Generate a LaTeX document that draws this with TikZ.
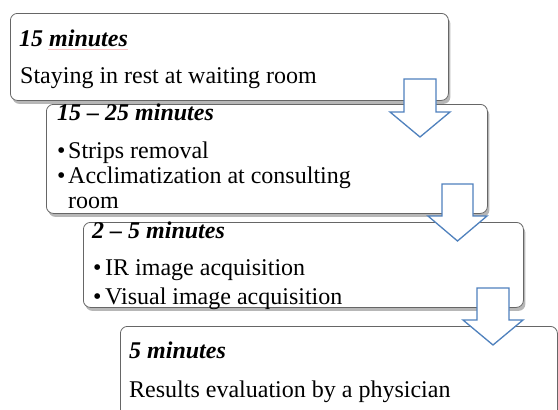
\documentclass[tikz,border=0pt]{standalone}
\usepackage{fontspec}
\setmainfont{Liberation Serif}
\usetikzlibrary{shadows}
\definecolor{arrowblue}{RGB}{79,129,189}
\definecolor{spellpink}{RGB}{250,195,195}
\begin{document}
\begin{tikzpicture}[x=1pt,y=-1pt,
  stagebox/.style={draw=black!60, line width=0.8pt, rounded corners=7pt, fill=white,
    anchor=north west, inner sep=0pt,
    drop shadow={shadow xshift=2pt, shadow yshift=-3.5pt, opacity=0.4, fill=black!70}},
  txt/.style={anchor=base west, inner sep=0pt, font=\fontsize{24}{26}\selectfont},
  ttl/.style={anchor=base west, inner sep=0pt, font=\fontsize{24}{26}\selectfont\bfseries\itshape},
  flowarrow/.style={draw=arrowblue, line width=1.3pt, fill=white, line join=miter}]
\useasboundingbox (0,0) rectangle (558,410);
\clip (0,0) rectangle (558,410);
% box 1
\node[stagebox, minimum width=438pt, minimum height=87pt] (b1) at (10,13) {};
\node[ttl] (t1) at (19,46) {15 minutes};
\draw[spellpink, line width=0.8pt] (48,49) -- (128,49);
\node[txt] (l1) at (20,83) {Staying in rest at waiting room};
% box 2
\node[stagebox, minimum width=441pt, minimum height=109pt] (b2) at (46,104) {};
\node[ttl] (t2) at (57,120) {15 – 25 minutes};
\node[txt] (p21) at (57,158) {•};
\node[txt] (l21) at (68,158) {Strips removal};
\node[txt] (p22) at (57,183) {•};
\node[txt] (l22) at (68,183) {Acclimatization at consulting};
\node[txt] (l23) at (68,208) {room};
% box 3
\node[stagebox, minimum width=440pt, minimum height=85pt] (b3) at (83,222) {};
\node[ttl] (t3) at (92,238) {2 – 5 minutes};
\node[txt] (p31) at (93,275) {•};
\node[txt] (l31) at (105,275) {IR image acquisition};
\node[txt] (p32) at (93,304) {•};
\node[txt] (l32) at (105,304) {Visual image acquisition};
% box 4
\node[stagebox, minimum width=437pt, minimum height=110pt] (b4) at (120,326) {};
\node[ttl] (t4) at (129,358) {5 minutes};
\node[txt] (l4) at (129,397) {Results evaluation by a physician};
% arrows
\draw[flowarrow] (404,79) -- (436,79) -- (436,112) -- (450,112) -- (420,137) -- (390,112) -- (404,112) -- cycle;
\draw[flowarrow] (442,184) -- (473,184) -- (473,216) -- (487,216) -- (457.5,241) -- (428,216) -- (442,216) -- cycle;
\draw[flowarrow] (477,288) -- (509,288) -- (509,320) -- (523,320) -- (493,345) -- (463,320) -- (477,320) -- cycle;
\end{tikzpicture}
\end{document}
